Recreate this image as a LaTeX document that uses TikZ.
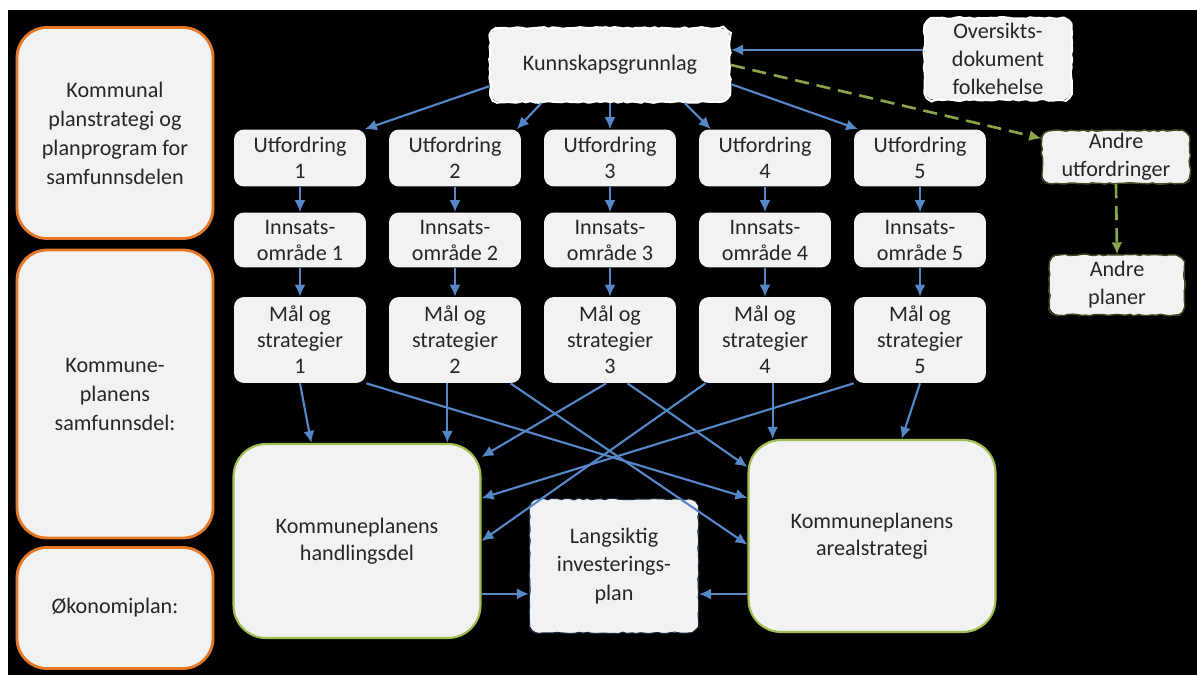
\documentclass[tikz,border=0pt]{standalone}
\usepackage{fontspec}
\setmainfont{Carlito}
\usepackage{xcolor}
\usepackage{tikz}
\usetikzlibrary{arrows.meta,decorations.pathmorphing}

\definecolor{boxgrey}{RGB}{242,242,242}
\definecolor{txtgrey}{RGB}{38,38,38}
\definecolor{flowblue}{RGB}{86,136,200}
\definecolor{sideorange}{RGB}{228,120,40}
\definecolor{framegreen}{RGB}{160,190,80}
\definecolor{dashgreen}{RGB}{140,165,75}

\begin{document}
\begin{tikzpicture}[x=0.02cm, y=-0.02cm,
    every node/.style={text=txtgrey, font=\fontsize{12.6}{14.8}\selectfont, align=center, inner sep=0pt},
    box/.style={fill=boxgrey, rounded corners=0.2cm, minimum width=2.64cm},
    sidebox/.style={fill=boxgrey, draw=sideorange, line width=1.6pt, rounded corners=0.6cm, minimum width=3.92cm, font=\fontsize{12.6}{16.5}\selectfont},
    bigbox/.style={fill=boxgrey, draw=framegreen, line width=1.2pt, rounded corners=0.65cm, minimum width=4.94cm, font=\fontsize{12.6}{15.5}\selectfont},
    rough/.style={fill=boxgrey, rounded corners=0.2cm, postaction={draw=#1, sharp corners, decorate, decoration={random steps, segment length=2.5pt, amplitude=0.5pt}}, font=\fontsize{12.6}{16}\selectfont},
    flow/.style={flowblue, line width=1.2pt, -{Latex[width=2.2mm,length=2.4mm]}},
    dashflow/.style={dashgreen, line width=1.5pt, dash pattern=on 8pt off 4.5pt, -{Latex[width=2.2mm,length=2.4mm]}}]
    \pgfmathsetseed{12}
    \useasboundingbox (0,0) rectangle (1197,675);
    \fill[white] (0,0) rectangle (1197,675);
    \fill[black] (8,10) rectangle (1197,675);

    \node[sidebox, minimum height=4.22cm] (plan) at (115,133) {Kommunal\\planstrategi og\\planprogram for\\samfunnsdelen};
    \node[sidebox, minimum height=5.76cm] (samf) at (115,394) {Kommune-\\planens\\samfunnsdel:};
    \node[sidebox, minimum height=2.42cm] (oko) at (115,608) {Økonomiplan:};

    \node[rough=white, line width=1.2pt, minimum width=4.8cm, minimum height=1.48cm] (kg) at (610,65) {Kunnskapsgrunnlag};
    \node[rough=white, line width=1.2pt, minimum width=2.94cm, minimum height=1.64cm] (ov) at (998,59) {Oversikts-\\dokument\\folkehelse};
    \node[rough=dashgreen!45!black, line width=0.8pt, minimum width=2.96cm, minimum height=1.06cm] (au) at (1116,157) {Andre\\utfordringer};
    \node[rough=dashgreen!45!black, line width=0.8pt, minimum width=2.7cm, minimum height=1.2cm] (ap) at (1117,285) {Andre\\planer};

    \node[box, minimum height=1.14cm] (u1) at (300,158) {Utfordring\\1};
    \node[box, minimum height=1.14cm] (u2) at (455,158) {Utfordring\\2};
    \node[box, minimum height=1.14cm] (u3) at (610,158) {Utfordring\\3};
    \node[box, minimum height=1.14cm] (u4) at (765,158) {Utfordring\\4};
    \node[box, minimum height=1.14cm] (u5) at (920,158) {Utfordring\\5};

    \node[box, minimum height=1.1cm] (i1) at (300,240) {Innsats-\\område 1};
    \node[box, minimum height=1.1cm] (i2) at (455,240) {Innsats-\\område 2};
    \node[box, minimum height=1.1cm] (i3) at (610,240) {Innsats-\\område 3};
    \node[box, minimum height=1.1cm] (i4) at (765,240) {Innsats-\\område 4};
    \node[box, minimum height=1.1cm] (i5) at (920,240) {Innsats-\\område 5};

    \node[box, minimum height=1.72cm] (m1) at (300,340) {Mål og\\strategier\\1};
    \node[box, minimum height=1.72cm] (m2) at (455,340) {Mål og\\strategier\\2};
    \node[box, minimum height=1.72cm] (m3) at (610,340) {Mål og\\strategier\\3};
    \node[box, minimum height=1.72cm] (m4) at (765,340) {Mål og\\strategier\\4};
    \node[box, minimum height=1.72cm] (m5) at (920,340) {Mål og\\strategier\\5};

    \node[bigbox, minimum height=3.88cm] (hd) at (357,541) {Kommuneplanens\\handlingsdel};
    \node[bigbox, minimum height=3.84cm] (as) at (872,536) {Kommuneplanens\\arealstrategi};
    \node[rough=flowblue!30!black, line width=0.6pt, minimum width=3.38cm, minimum height=2.68cm] (lip) at (614,566) {Langsiktig\\investerings-\\plan};

    \draw[flow] (ov.173) -- (ov.173 -| kg.east);
    \draw[dashflow] (kg.east) -- (au.166);
    \draw[dashflow] (au.south) -- (ap.north);

    \draw[flow] (kg.190) -- (u1.24);
    \draw[flow] (kg.209) -- (u2.25);
    \draw[flow] (kg.south) -- (u3.north);
    \draw[flow] (kg.-27) -- (u4.152);
    \draw[flow] (kg.-9) -- (u5.155);

    \draw[flow] (u1) -- (i1);
    \draw[flow] (u2) -- (i2);
    \draw[flow] (u3) -- (i3);
    \draw[flow] (u4) -- (i4);
    \draw[flow] (u5) -- (i5);
    \draw[flow] (i1) -- (m1);
    \draw[flow] (i2) -- (m2);
    \draw[flow] (i3) -- (m3);
    \draw[flow] (i4) -- (m4);
    \draw[flow] (i5) -- (m5);

    \draw[flow] (m1.south) -- (hd.115);
    \draw[flow] (m1.south east) -- (as.163);
    \draw[flow] (m2.-100) -- (m2.-100 |- hd.north);
    \draw[flow] (m2.-38) -- (as.184);
    \draw[flow] (m3.265) -- (hd.34);
    \draw[flow] (m3.-68) -- (as.151);
    \draw[flow] (m4.-144) -- (hd.east);
    \draw[flow] (m4.-80) -- (m4.-80 |- as.north);
    \draw[flow] (m5.south west) -- (hd.19);
    \draw[flow] (m5.south) -- (as.73);

    \draw[flow] (hd.-23) -- (hd.-23 -| lip.west);
    \draw[flow] (as.205) -- (as.205 -| lip.east);
\end{tikzpicture}
\end{document}
